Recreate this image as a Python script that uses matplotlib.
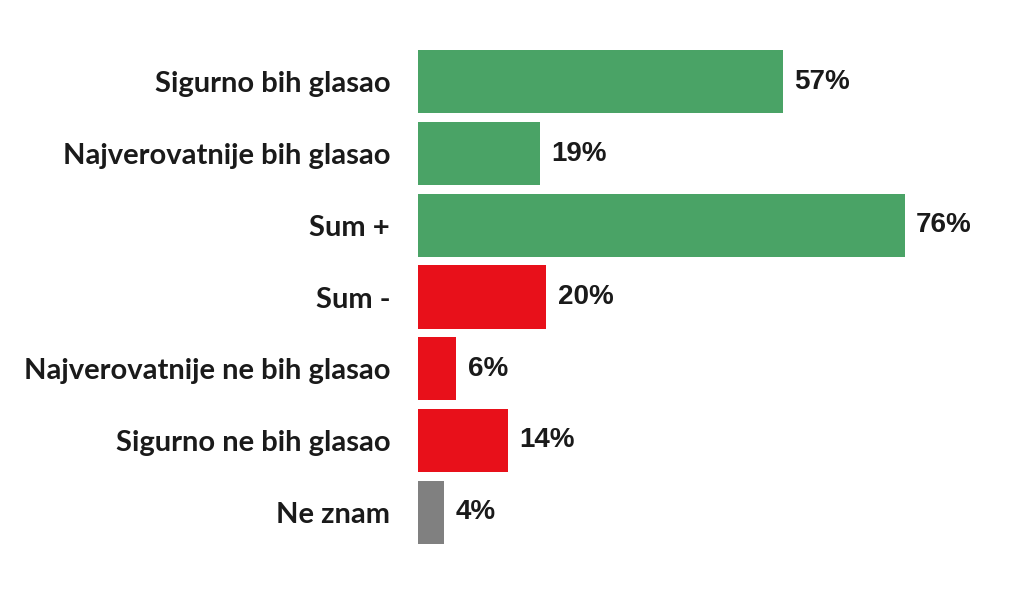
import matplotlib.pyplot as plt

categories = ['Sigurno bih glasao', 'Najverovatnije bih glasao', 'Sum +', 'Sum -',
              'Najverovatnije ne bih glasao', 'Sigurno ne bih glasao', 'Ne znam']
values = [57, 19, 76, 20, 6, 14, 4]
groups = ['yes', 'yes', 'yes', 'no', 'no', 'no', 'dk']

colors = {'yes': '#4aa366', 'no': '#e8101a', 'dk': '#808080'}

fig = plt.figure(figsize=(10.36, 6), dpi=100)
ax = fig.add_axes([418 / 1036, 1 - 548 / 600, 618 / 1036, 502 / 600])

ypos = list(range(len(categories)))
ax.barh(ypos, values, height=0.88, color=[colors[g] for g in groups])

for y, v in zip(ypos, values):
    ax.text(v + 1.8, y, f'{v}%', va='center', ha='left', fontsize=20,
            fontweight='bold', family='Liberation Sans', color='#1a1a1a')

ax.set_xlim(0, 96.5)
ax.set_ylim(len(categories) - 0.5, -0.5)
ax.set_yticks(ypos)
ax.set_yticklabels(categories, fontsize=21, fontweight='bold', family='Lato',
                   color='#1a1a1a')
ax.tick_params(axis='y', length=0, pad=20)
ax.set_xticks([])
for s in ax.spines.values():
    s.set_visible(False)

fig.savefig('out.png', dpi=100)
